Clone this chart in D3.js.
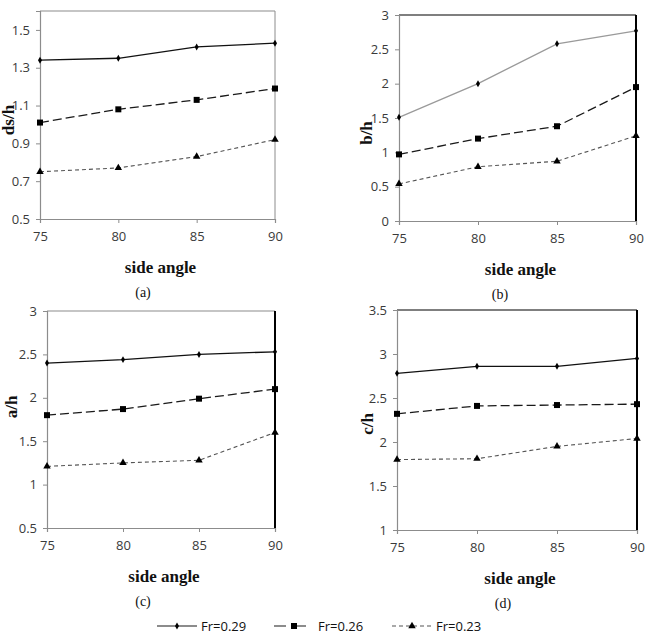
<!DOCTYPE html>
<html>
<head>
<meta charset="utf-8">
<script src="https://cdn.jsdelivr.net/npm/d3@7"></script>
<style>
  body { margin: 0; background: #fff; }
  svg { display: block; }
  .tick-label { font-family: 'Open Sans', 'Liberation Sans', sans-serif; font-size: 13px; fill: #3a3a3a; }
  .axis-title { font-family: 'Liberation Serif', 'DejaVu Serif', serif; font-size: 17px; font-weight: bold; fill: #111; }
  .panel-tag { font-family: 'Liberation Serif', 'DejaVu Serif', serif; font-size: 14px; fill: #111; }
  .legend-text { font-family: 'Open Sans', 'Liberation Sans', sans-serif; font-size: 13px; fill: #111; }
</style>
</head>
<body>
<div id="chart"></div>
<script>
'use strict';

// data
const angles = [75, 80, 85, 90];
const seriesNames = ['Fr=0.29', 'Fr=0.26', 'Fr=0.23'];

const dsH = [
  [1.34, 1.35, 1.41, 1.43],
  [1.01, 1.08, 1.13, 1.19],
  [0.75, 0.77, 0.83, 0.92]];
const bH = [
  [1.51, 2.00, 2.58, 2.77],
  [0.97, 1.20, 1.38, 1.95],
  [0.54, 0.79, 0.87, 1.24]];
const aH = [
  [2.40, 2.44, 2.50, 2.53],
  [1.80, 1.87, 1.99, 2.10],
  [1.21, 1.25, 1.28, 1.60]];
const cH = [
  [2.78, 2.86, 2.86, 2.95],
  [2.32, 2.41, 2.42, 2.43],
  [1.80, 1.81, 1.95, 2.04]];

const ticksA = [0.5, 0.7, 0.9, 1.1, 1.3, 1.5];
const ticksB = [0, 0.5, 1, 1.5, 2, 2.5, 3];
const ticksC = [0.5, 1, 1.5, 2, 2.5, 3];
const ticksD = [1, 1.5, 2, 2.5, 3, 3.5];

const width = 653;
const height = 643;

const svg = d3.select('#chart')
  .append('svg')
    .attr('width', width)
    .attr('height', height);

// panel layout
const panels = [
  { values: dsH, ticks: ticksA, domain: [0.5, 1.6], title: 'ds/h', tag: '(a)',
    x0: 40, x1: 275, y0: 11, y1: 219, titleX: 8, titleY: 120, tagX: 143,
    topColor: '#8c8c8c', rightColor: '#8c8c8c', rightW: 1, lineColor0: '#111' },
  { values: bH, ticks: ticksB, domain: [0, 3], title: 'b/h', tag: '(b)',
    x0: 399, x1: 636, y0: 15, y1: 221, titleX: 366, titleY: 133, tagX: 500,
    topColor: '#000', rightColor: '#000', rightW: 2, lineColor0: '#9a9a9a' },
  { values: aH, ticks: ticksC, domain: [0.5, 3], title: 'a/h', tag: '(c)',
    x0: 47, x1: 275, y0: 311, y1: 528, titleX: 11, titleY: 407, tagX: 143,
    topColor: '#8c8c8c', rightColor: '#000', rightW: 2, lineColor0: '#111' },
  { values: cH, ticks: ticksD, domain: [1, 3.5], title: 'c/h', tag: '(d)',
    x0: 397, x1: 637, y0: 310, y1: 530, titleX: 367, titleY: 424, tagX: 503,
    topColor: '#000', rightColor: '#000', rightW: 2, lineColor0: '#111' }
];

const styles = [
  { dash: null, width: 1.3, symbol: d3.symbolDiamond, size: 14 },
  { dash: '9,4', width: 1.3, symbol: d3.symbolSquare, size: 36 },
  { dash: '4,3', width: 1.1, symbol: d3.symbolTriangle, size: 24 }
];
const lineColors = (p) => [p.lineColor0, '#1a1a1a', '#555'];

panels.forEach((p) => {
  const x = d3.scalePoint().domain(angles).range([p.x0, p.x1]);
  const y = d3.scaleLinear().domain(p.domain).range([p.y1, p.y0]);
  const g = svg.append('g');

  // frame: grey left/bottom axes, top/right border
  g.append('line').attr('x1', p.x0).attr('x2', p.x1).attr('y1', p.y0).attr('y2', p.y0)
    .attr('stroke', p.topColor).attr('stroke-width', 1.2);
  g.append('line').attr('x1', p.x1).attr('x2', p.x1).attr('y1', p.y0).attr('y2', p.y1)
    .attr('stroke', p.rightColor).attr('stroke-width', p.rightW);

  const yAxis = d3.axisLeft(y).tickValues(p.ticks).tickSize(4).tickPadding(6)
    .tickFormat(d3.format('~g'));
  const yG = g.append('g').attr('transform', 'translate(' + p.x0 + ',0)').call(yAxis);
  const xAxis = d3.axisBottom(x).tickSize(4).tickPadding(9);
  const xG = g.append('g').attr('transform', 'translate(0,' + p.y1 + ')').call(xAxis);

  [yG, xG].forEach((a) => {
    a.select('.domain').attr('stroke', '#8c8c8c').attr('stroke-width', 1.2);
    a.selectAll('.tick line').attr('stroke', '#8c8c8c');
    a.selectAll('.tick text').attr('class', 'tick-label').attr('fill', null)
      .style('font-size', null).style('font-family', null);
    a.attr('font-size', null).attr('font-family', null);
  });
  xG.selectAll('.tick text').attr('dy', '0.71em');

  // series
  const colors = lineColors(p);
  p.values.forEach((vals, i) => {
    const st = styles[i];
    const pts = vals.map((v, j) => [x(angles[j]), y(v)]);
    g.append('path')
      .attr('d', d3.line()(pts))
      .attr('fill', 'none')
      .attr('stroke', colors[i])
      .attr('stroke-width', st.width)
      .attr('stroke-dasharray', st.dash);
    g.selectAll('.m' + i)
      .data(pts)
      .enter()
      .append('path')
      .attr('transform', (d) => 'translate(' + d[0] + ',' + d[1] + ')')
      .attr('d', d3.symbol().type(st.symbol).size(st.size))
      .attr('fill', '#000');
  });

  // titles
  g.append('text')
    .attr('class', 'axis-title')
    .attr('text-anchor', 'middle')
    .attr('transform', 'translate(' + p.titleX + ',' + p.titleY + ') rotate(-90)')
    .attr('dy', '0.35em')
    .text(p.title);
  g.append('text')
    .attr('class', 'axis-title')
    .attr('text-anchor', 'middle')
    .attr('x', (p.x0 + p.x1) / 2 + 3)
    .attr('y', p.y1 + 54)
    .text('side angle');
  g.append('text')
    .attr('class', 'panel-tag')
    .attr('text-anchor', 'middle')
    .attr('x', p.tagX)
    .attr('y', p.y1 + 78)
    .text(p.tag);
});

// legend
const legendX = [157, 274, 392];
const legend = svg.append('g').attr('transform', 'translate(0,626)');
seriesNames.forEach((name, i) => {
  const st = styles[i];
  const lg = legend.append('g').attr('transform', 'translate(' + legendX[i] + ',0)');
  lg.append('line').attr('x1', 0).attr('x2', 40).attr('y1', 0).attr('y2', 0)
    .attr('stroke', i === 2 ? '#555' : '#1a1a1a').attr('stroke-width', 1.1)
    .attr('stroke-dasharray', st.dash ? (i === 1 ? '12,8' : '4,3') : null);
  lg.append('path')
    .attr('transform', 'translate(20,0)')
    .attr('d', d3.symbol().type(st.symbol).size(st.size))
    .attr('fill', '#000');
  lg.append('text')
    .attr('class', 'legend-text')
    .attr('x', 44)
    .attr('dy', '0.35em')
    .text(name);
});
</script>
</body>
</html>
